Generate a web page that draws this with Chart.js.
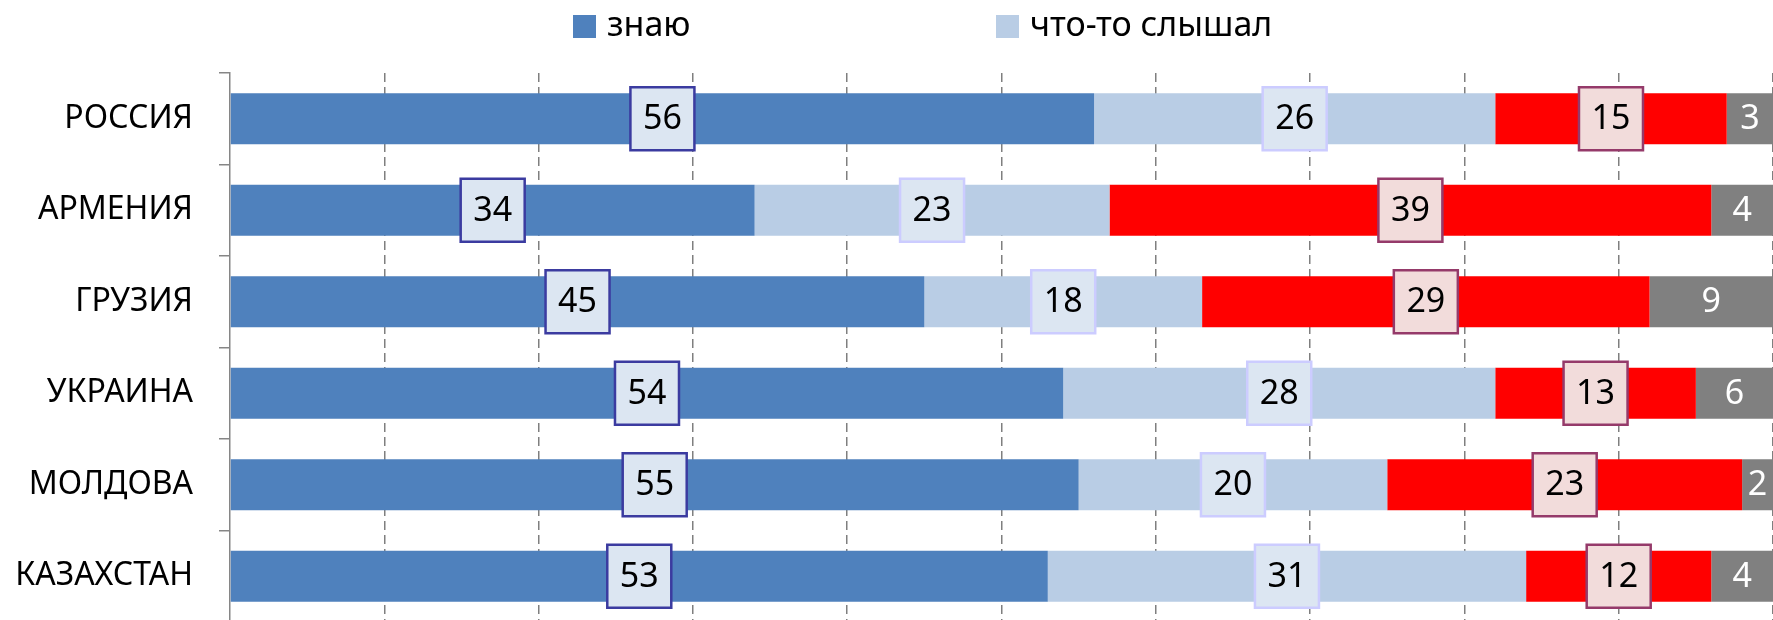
<!DOCTYPE html>
<html lang="ru">
<head>
<meta charset="utf-8">
<title>Знание</title>
<script src="https://cdn.jsdelivr.net/npm/chart.js@4.4.1/dist/chart.umd.min.js"></script>
<style>
    html, body { margin: 0; padding: 0; background: #fff; overflow: hidden; }
    #wrap { width: 1773px; height: 622px; position: relative; }
</style>
</head>
<body>
<div id="wrap"><canvas id="awarenessChart"></canvas></div>
<script>
"use strict";

// Data
const countries = ["РОССИЯ", "АРМЕНИЯ", "ГРУЗИЯ", "УКРАИНА", "МОЛДОВА", "КАЗАХСТАН"];
const know = [56, 34, 45, 54, 55, 53];
const heardSomething = [26, 23, 18, 28, 20, 31];
const notHeard = [15, 39, 29, 13, 23, 12];
const hardToSay = [3, 4, 9, 6, 2, 4];
const xTicks = [0, 10, 20, 30, 40, 50, 60, 70, 80, 90, 100];

Chart.defaults.font.family = "'Noto Sans', sans-serif";
Chart.defaults.color = "#000";

// boxes drawn over bar segments (value labels)
const valueLabels = {
    id: "valueLabels",
    afterDatasetsDraw(chart, args, opts) {
        const ctx = chart.ctx;
        const area = chart.chartArea;
        ctx.save();
        ctx.font = "34px 'Noto Sans', sans-serif";
        ctx.textAlign = "center";
        ctx.textBaseline = "middle";
        chart.data.datasets.forEach((ds, i) => {
            const meta = chart.getDatasetMeta(i);
            const style = opts.styles[i];
            meta.data.forEach((bar, j) => {
                const p = bar.getProps(["x", "y", "base"], true);
                const left = Math.max(Math.min(p.x, p.base), area.left);
                const right = Math.min(Math.max(p.x, p.base), area.right);
                const cx = (left + right) / 2;
                const cy = p.y;
                if (style.box) {
                    const w = 64, h = 63;
                    ctx.fillStyle = style.fill;
                    ctx.fillRect(cx - w / 2, cy - h / 2, w, h);
                    ctx.lineWidth = 2.5;
                    ctx.strokeStyle = style.border;
                    ctx.strokeRect(cx - w / 2, cy - h / 2, w, h);
                }
                ctx.fillStyle = style.text;
                ctx.fillText(String(ds.data[j]), cx, cy + 1);
            });
        });
        ctx.restore();
    },
};

// legend only shows the first two series
const topLegend = {
    id: "topLegend",
    afterDraw(chart, args, opts) {
        const ctx = chart.ctx;
        ctx.save();
        ctx.font = "34px 'Noto Sans', sans-serif";
        ctx.textBaseline = "middle";
        ctx.textAlign = "left";
        opts.items.forEach((item) => {
            const ds = chart.data.datasets[item.index];
            ctx.fillStyle = ds.backgroundColor;
            ctx.fillRect(item.x, 15, 23, 23);
            ctx.fillStyle = "#000";
            ctx.fillText(ds.label, item.x + 34, 26);
        });
        ctx.restore();
    },
};

let chartCanvas = document.getElementById("awarenessChart");
let ctx = chartCanvas.getContext("2d");

window.awarenessChart = new Chart(ctx, {
    type: "bar",
    data: {
        labels: countries,
        datasets: [
            { label: "знаю", data: know, backgroundColor: "#4f81bd" },
            { label: "что-то слышал", data: heardSomething, backgroundColor: "#b9cde5" },
            { label: "не слышал", data: notHeard, backgroundColor: "#ff0000" },
            { label: "затрудняюсь ответить", data: hardToSay, backgroundColor: "#808080" },
        ],
    },
    options: {
        indexAxis: "y",
        responsive: true,
        maintainAspectRatio: false,
        animation: false,
        datasets: {
            bar: { categoryPercentage: 1, barPercentage: 0.558 },
        },
        layout: { padding: { top: 73, right: 0, bottom: 0, left: 0 } },
        scales: {
            x: {
                stacked: true,
                min: 0,
                max: 100,
                afterBuildTicks: (scale) => {
                    scale.ticks = xTicks.map((v) => ({ value: v }));
                },
                afterFit: (scale) => {
                    scale.height = 0;
                },
                ticks: { display: false },
                grid: {
                    drawTicks: false,
                    color: (c) => (c.tick && c.tick.value === 0 ? "rgba(0,0,0,0)" : "#7f7f7f"),
                    lineWidth: 1.5,
                },
                border: { display: false, dash: [9, 5] },
            },
            y: {
                stacked: true,
                afterFit: (scale) => {
                    scale.width = 230;
                    scale.paddingTop = 0;
                    scale.paddingBottom = 0;
                },
                ticks: {
                    padding: 26,
                    font: { size: 32 },
                    color: "#000",
                },
                grid: {
                    drawOnChartArea: false,
                    drawTicks: true,
                    tickLength: 11,
                    offset: true,
                    color: "#868686",
                    lineWidth: 1.5,
                },
                border: { display: true, color: "#868686", width: 1.5 },
            },
        },
        plugins: {
            legend: { display: false },
            tooltip: { enabled: false },
            valueLabels: {
                styles: [
                    { box: true, fill: "#dce6f2", border: "#3b3ba0", text: "#000" },
                    { box: true, fill: "#dce6f2", border: "#ccccff", text: "#000" },
                    { box: true, fill: "#f2dcdb", border: "#953a6a", text: "#000" },
                    { box: false, text: "#fff" },
                ],
            },
            topLegend: {
                items: [
                    { index: 0, x: 573 },
                    { index: 1, x: 996 },
                ],
            },
        },
    },
    plugins: [valueLabels, topLegend],
});
</script>
</body>
</html>
